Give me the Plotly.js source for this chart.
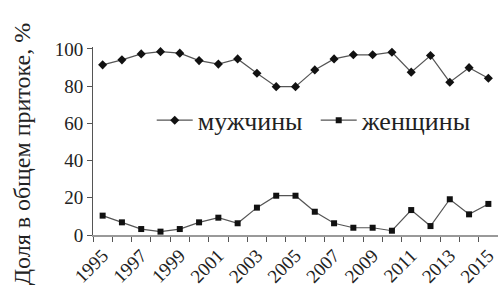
<!DOCTYPE html>
<html>
<head>
<meta charset="utf-8">
<script src="https://cdn.plot.ly/plotly-3.0.1.min.js"></script>
<style>html,body{margin:0;padding:0;background:#fff;}#chart{width:498px;height:299px;}</style>
</head>
<body>
<div id="chart"></div>
<script>
const years = [1995,1996,1997,1998,1999,2000,2001,2002,2003,2004,2005,2006,2007,2008,2009,2010,2011,2012,2013,2014,2015];
const men =   [91.4,94.1,97.3,98.5,97.7,93.7,91.8,94.6,86.9,79.7,79.7,88.7,94.6,96.8,96.8,98.2,87.5,96.4,82.1,89.9,84.2];
const women = [10.4,6.8,3.2,1.8,3.2,6.8,9.3,6.3,14.7,21.1,21.1,12.5,6.3,3.9,3.9,2.3,13.4,4.8,19.2,11.1,16.7];
const xTickLabels = ['1995','1997','1999','2001','2003','2005','2007','2009','2011','2013','2015'];
const yTicks = [0,20,40,60,80,100];
const seriesNames = ['мужчины','женщины'];
const yTitle = 'Доля в общем притоке, %';

const serif = 'Liberation Serif, Times New Roman, serif';
const traces = [
  {x: years, y: men, name: seriesNames[0], type: 'scatter', mode: 'lines+markers',
   line: {color: '#555', width: 1.2}, marker: {symbol: 'diamond', size: 7, color: '#111'}, cliponaxis: false},
  {x: years, y: women, name: seriesNames[1], type: 'scatter', mode: 'lines+markers',
   line: {color: '#555', width: 1.2}, marker: {symbol: 'square', size: 6, color: '#111'}, cliponaxis: false}
];
const layout = {
  width: 498, height: 299,
  margin: {l: 93, r: 0, t: 47, b: 64},
  paper_bgcolor: '#fff', plot_bgcolor: '#fff',
  showlegend: true,
  legend: {orientation: 'h', x: 0.145, y: 0.61, xanchor: 'left', yanchor: 'middle',
           itemwidth: 36, entrywidth: 113, entrywidthmode: 'pixels',
           font: {family: serif, size: 26, color: '#222'}, bgcolor: 'rgba(0,0,0,0)', itemclick: false},
  xaxis: {range: [1994.5, 2015.5], tickmode: 'array', tickvals: xTickLabels.map(Number), ticktext: xTickLabels,
          tickangle: -45, ticks: '', showgrid: false, zeroline: false,
          showline: true, linecolor: '#999', linewidth: 2,
          tickfont: {family: serif, size: 19, color: '#222'},
          minor: {tickmode: 'linear', tick0: 1994.5, dtick: 1, ticks: 'outside', ticklen: 5, tickcolor: '#555', tickwidth: 1, showgrid: false}},
  yaxis: {range: [0, 101], tickmode: 'array', tickvals: yTicks, ticks: 'outside', ticklen: 5, tickcolor: '#555',
          showgrid: false, zeroline: false, showline: true, linecolor: '#555', linewidth: 1,
          tickfont: {family: serif, size: 19, color: '#222'}},
  annotations: [{text: yTitle, xref: 'paper', yref: 'paper', x: -0.175, y: 0.43, textangle: -90,
                 showarrow: false, xanchor: 'center', yanchor: 'middle',
                 font: {family: serif, size: 24, color: '#222'}}]
};
Plotly.newPlot('chart', traces, layout, {staticPlot: true, displayModeBar: false});
</script>
</body>
</html>
